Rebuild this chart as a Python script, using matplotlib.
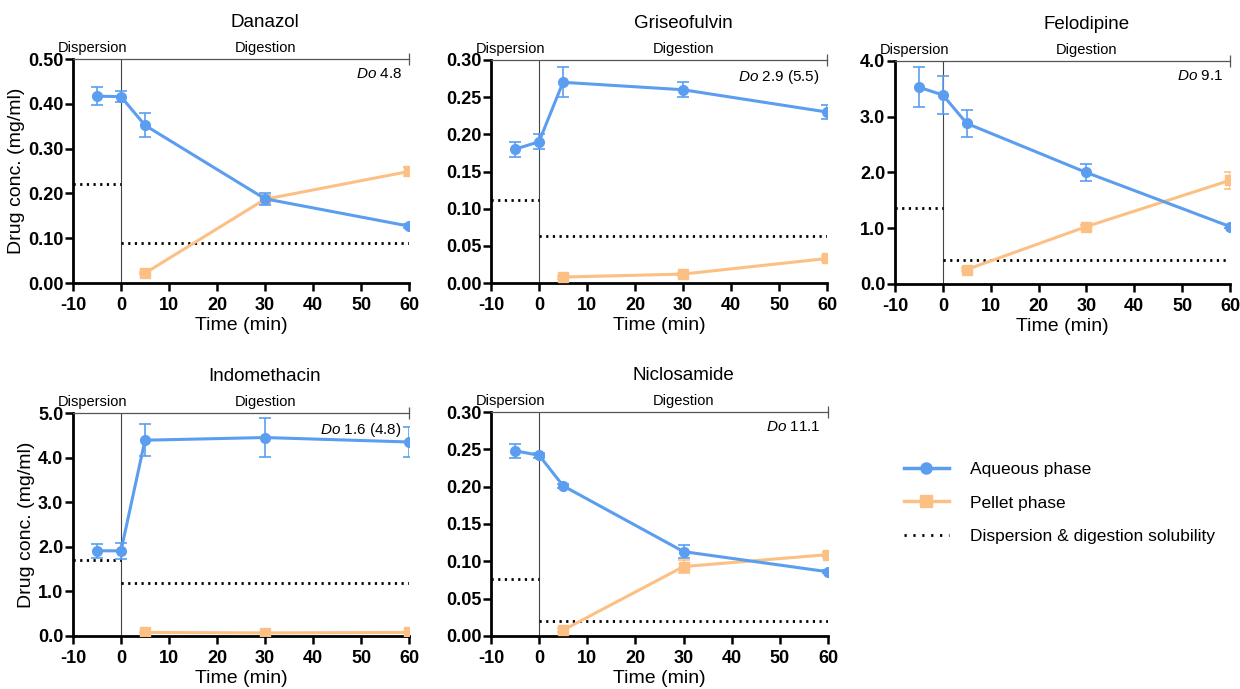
"""Drug concentration during dispersion and digestion, five drugs."""

import matplotlib.pyplot as plt
from matplotlib.lines import Line2D

plt.rcParams["font.family"] = ["Liberation Sans", "DejaVu Sans"]
plt.rcParams["axes.unicode_minus"] = False
plt.rcParams["mathtext.fontset"] = "custom"
plt.rcParams["mathtext.it"] = "Liberation Sans:italic"
plt.rcParams["mathtext.rm"] = "Liberation Sans"

BLUE = "#5B9EF0"
ORANGE = "#FDC084"
W, H = 1240, 689

time_aq = [-5, 0, 5, 30, 60]
time_pel = [5, 30, 60]

drugs = ["Danazol", "Griseofulvin", "Felodipine", "Indomethacin", "Niclosamide"]
do_labels = ["4.8", "2.9 (5.5)", "9.1", "1.6 (4.8)", "11.1"]

aq_mean = {
    "Danazol": [0.417, 0.416, 0.352, 0.188, 0.127],
    "Griseofulvin": [0.180, 0.190, 0.270, 0.260, 0.230],
    "Felodipine": [3.53, 3.39, 2.88, 2.00, 1.03],
    "Indomethacin": [1.91, 1.91, 4.39, 4.45, 4.35],
    "Niclosamide": [0.248, 0.242, 0.201, 0.113, 0.086],
}
aq_err = {
    "Danazol": [0.020, 0.012, 0.027, 0.013, 0.004],
    "Griseofulvin": [0.010, 0.010, 0.020, 0.010, 0.010],
    "Felodipine": [0.36, 0.34, 0.25, 0.16, 0.03],
    "Indomethacin": [0.15, 0.18, 0.36, 0.43, 0.34],
    "Niclosamide": [0.009, 0.003, 0.003, 0.009, 0.002],
}
pel_mean = {
    "Danazol": [0.022, 0.187, 0.249],
    "Griseofulvin": [0.008, 0.012, 0.033],
    "Felodipine": [0.26, 1.03, 1.86],
    "Indomethacin": [0.08, 0.07, 0.08],
    "Niclosamide": [0.008, 0.093, 0.109],
}
pel_err = {
    "Danazol": [0.003, 0.010, 0.010],
    "Griseofulvin": [0.002, 0.002, 0.003],
    "Felodipine": [0.02, 0.03, 0.15],
    "Indomethacin": [0.01, 0.01, 0.01],
    "Niclosamide": [0.003, 0.009, 0.003],
}
sol_dispersion = [0.22, 0.111, 1.36, 1.71, 0.077]
sol_digestion = [0.090, 0.063, 0.43, 1.18, 0.020]
y_max = [0.50, 0.30, 4.0, 5.0, 0.30]
y_step = [0.10, 0.05, 1.0, 1.0, 0.05]
y_fmt = ["{:.2f}", "{:.2f}", "{:.1f}", "{:.1f}", "{:.2f}"]

# axes boxes in pixels: left, top, right, bottom
boxes = [
    (73, 59, 409, 283),
    (491, 60, 827, 283),
    (895, 61, 1230, 284),
    (73, 413, 409, 636),
    (491, 412, 828, 636),
]

fig = plt.figure(figsize=(W / 100, H / 100), dpi=100)

for i, name in enumerate(drugs):
    l, t, r, b = boxes[i]
    ax = fig.add_axes([l / W, 1 - b / H, (r - l) / W, (b - t) / H])

    ax.plot([-10, 0], [sol_dispersion[i]] * 2, color="black", lw=2,
            linestyle=(0, (0.8, 1.6)), zorder=2)
    ax.plot([0, 60], [sol_digestion[i]] * 2, color="black", lw=2,
            linestyle=(0, (0.8, 1.6)), zorder=2)
    ax.axvline(0, color="#444444", lw=0.8, zorder=1)

    ax.errorbar(time_pel, pel_mean[name], yerr=pel_err[name], color=ORANGE,
                marker="s", ms=7, lw=2.2, elinewidth=1.2, capsize=4,
                capthick=1.2, zorder=3)
    ax.errorbar(time_aq, aq_mean[name], yerr=aq_err[name], color=BLUE,
                marker="o", ms=7, lw=2.2, elinewidth=1.2, capsize=4,
                capthick=1.2, zorder=4)

    ax.set_xlim(-10, 60)
    ax.set_ylim(0, y_max[i])
    ax.set_xticks(range(-10, 61, 10))
    n = int(round(y_max[i] / y_step[i]))
    yt = [k * y_step[i] for k in range(n + 1)]
    ax.set_yticks(yt)
    ax.set_yticklabels([y_fmt[i].format(v) for v in yt])
    ax.tick_params(axis="both", direction="out", length=6, width=1.8,
                   labelsize=13)
    ax.tick_params(axis="x", pad=4)
    ax.tick_params(axis="y", pad=1)
    for lab in ax.get_xticklabels() + ax.get_yticklabels():
        lab.set_fontweight("bold")

    ax.spines["right"].set_visible(False)
    ax.spines["top"].set_color("#555555")
    ax.spines["top"].set_linewidth(0.9)
    ax.spines["left"].set_linewidth(2)
    ax.spines["bottom"].set_linewidth(2)
    ax.plot([60], [y_max[i]], marker="|", ms=8, mew=0.9, color="#555555",
            clip_on=False, zorder=5)

    ax.text(-6, 1.02, "Dispersion", transform=ax.get_xaxis_transform(),
            ha="center", va="bottom", fontsize=10.5)
    ax.text(30, 1.02, "Digestion", transform=ax.get_xaxis_transform(),
            ha="center", va="bottom", fontsize=10.5)
    # panel title sits over the digestion period, not the axes centre
    ax.text(30, 1.165, name, transform=ax.get_xaxis_transform(),
            ha="center", va="center", fontsize=13.5)
    ax.text(58.5, 0.965, r"$\it{Do}$ " + do_labels[i],
            transform=ax.get_xaxis_transform(), ha="right", va="top",
            fontsize=11)

    ax.set_xlabel("Time (min)", fontsize=14, labelpad=2)
    if i in (0, 3):
        ax.set_ylabel("Drug conc. (mg/ml)", fontsize=14, labelpad=2)

handles = [
    Line2D([], [], color=BLUE, marker="o", ms=8, lw=2.5),
    Line2D([], [], color=ORANGE, marker="s", ms=8, lw=2.5),
    Line2D([], [], color="black", lw=2, linestyle=(0, (0.8, 2.4))),
]
fig.legend(handles, ["Aqueous phase", "Pellet phase",
                     "Dispersion & digestion solubility"],
           loc="center left", bbox_to_anchor=(888 / W, 1 - 503 / H),
           frameon=False, fontsize=12.5, handlelength=2.6, labelspacing=1.05,
           handletextpad=1.2)

fig.savefig("out.png", dpi=100)
